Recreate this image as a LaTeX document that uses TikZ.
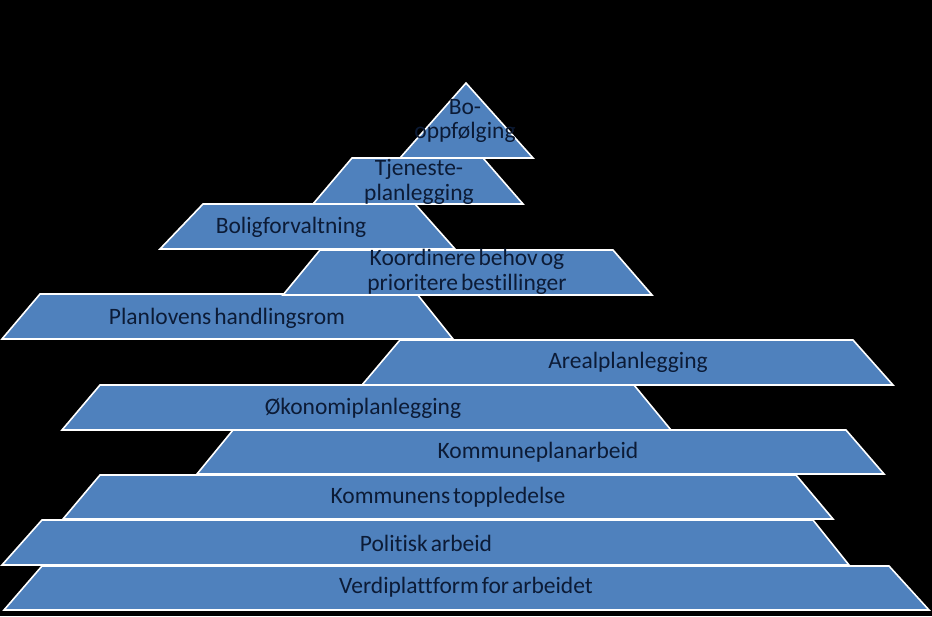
\documentclass[tikz,border=0pt]{standalone}
\usepackage{fontspec}
\setmainfont{Carlito}[Ligatures=NoCommon]
\definecolor{tierblue}{HTML}{4F81BD}
\definecolor{txtcol}{HTML}{0C1B36}
\newcommand\tierfont{\fontsize{23.5}{24.5}\selectfont\spaceskip=3pt plus 1pt\relax}
\tikzset{
  tier/.style={fill=tierblue, draw=white, line width=1.6pt, line join=miter},
  lbl/.style={text=txtcol, font=\tierfont, align=center, inner sep=0pt, anchor=center}
}
\begin{document}
\begin{tikzpicture}[x=1pt,y=-1pt]
\fill[black] (0,0) rectangle (932,616);
\useasboundingbox (0,0) rectangle (932,616);
% shapes
\draw[tier] (4,610) -- (42,566) -- (889,566) -- (929,610) -- cycle;
\draw[tier] (2,565) -- (42,520) -- (813,520) -- (849,565) -- cycle;
\draw[tier] (63,519) -- (100,475) -- (796,475) -- (833,519) -- cycle;
\draw[tier] (197,474) -- (233,430) -- (846,430) -- (884,474) -- cycle;
\draw[tier] (62,430) -- (100,385) -- (634,385) -- (671,430) -- cycle;
\draw[tier] (362,385) -- (400,340) -- (853,340) -- (893,385) -- cycle;
\draw[tier] (2,339) -- (40,294) -- (417,294) -- (453,339) -- cycle;
\draw[tier] (283,295) -- (320,250) -- (613,250) -- (652,295) -- cycle;
\draw[tier] (160,249) -- (203,204) -- (415,204) -- (455,249) -- cycle;
\draw[tier] (313,204) -- (352,158) -- (483,158) -- (523,204) -- cycle;
\draw[tier] (400,158) -- (466,83) -- (533,158) -- cycle;
% labels
\node[lbl] (t1) at (465,121) {Bo-\\oppfølging};
\node[lbl] (t2) at (419,182) {Tjeneste-\\planlegging};
\node[lbl] (t3) at (291,227) {Boligforvaltning};
\node[lbl] (t4) at (467,272) {Koordinere behov og\\prioritere bestillinger};
\node[lbl] (t5) at (227,318) {Planlovens handlingsrom};
\node[lbl] (t6) at (628,362) {Arealplanlegging};
\node[lbl] (t7) at (363,408) {Økonomiplanlegging};
\node[lbl] (t8) at (538,452) {Kommuneplanarbeid};
\node[lbl] (t9) at (448,497) {Kommunens toppledelse};
\node[lbl] (t10) at (426,543) {Politisk arbeid};
\node[lbl] (t11) at (466,587) {Verdiplattform for arbeidet};
\end{tikzpicture}
\end{document}
